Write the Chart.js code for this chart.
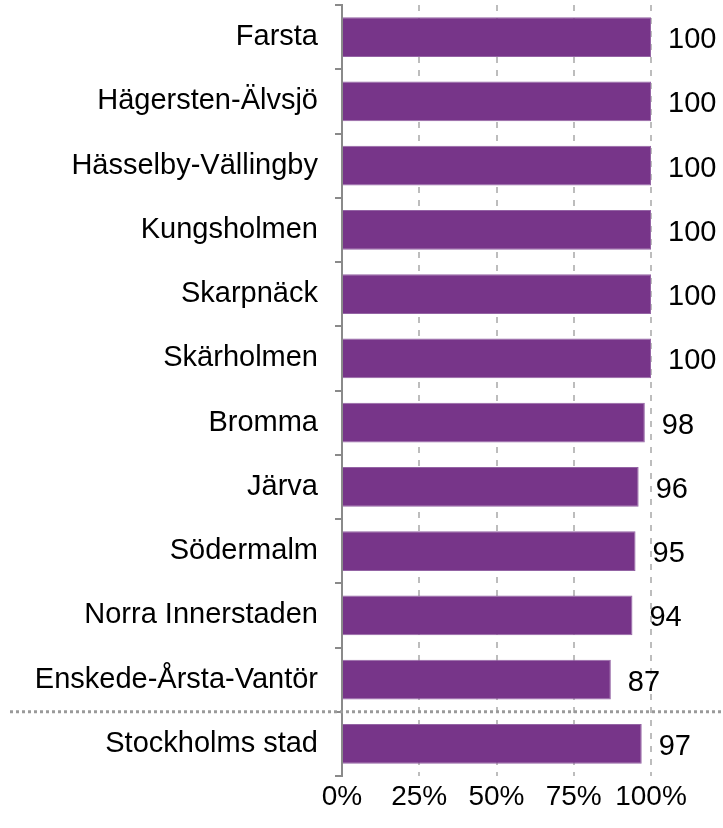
<!DOCTYPE html>
<html lang="sv">
<head>
    <meta charset="utf-8">
    <title>Stadsdelar</title>
    <script src="https://cdn.jsdelivr.net/npm/chart.js@4.4.1/dist/chart.umd.min.js"></script>
    <style>
        html, body { margin: 0; padding: 0; background: #fff; }
        #wrap { width: 723px; height: 828px; }
    </style>
</head>
<body>
<div id="wrap"><canvas id="chart" width="723" height="828"></canvas></div>
<script>
  var labels = ["Farsta", "Hägersten-Älvsjö", "Hässelby-Vällingby", "Kungsholmen", "Skarpnäck",
    "Skärholmen", "Bromma", "Järva", "Södermalm", "Norra Innerstaden", "Enskede-Årsta-Vantör",
    "Stockholms stad"];
  var values = [100, 100, 100, 100, 100, 100, 98, 96, 95, 94, 87, 97];
  var xTicks = [0, 25, 50, 75, 100];

  var FONT = "'Liberation Sans', Arial, sans-serif";

  // siffror till höger om staplarna
  var valueLabels = {
    id: 'valueLabels',
    afterDatasetsDraw: function (chart) {
      var ctx = chart.ctx;
      var meta = chart.getDatasetMeta(0);
      ctx.save();
      ctx.font = "29px " + FONT;
      ctx.fillStyle = "#000";
      ctx.textAlign = "left";
      ctx.textBaseline = "middle";
      meta.data.forEach(function (bar, i) {
        ctx.fillText(values[i], bar.x + 17, bar.y + 3);
      });
      ctx.restore();
    }
  };

  // prickad linje ovanför Stockholms stad
  var separator = {
    id: 'separator',
    afterDraw: function (chart) {
      var ctx = chart.ctx;
      var y = chart.scales.y.getPixelForValue(labels.length - 1.5);
      ctx.save();
      ctx.strokeStyle = "#9a9a9a";
      ctx.lineWidth = 3;
      ctx.setLineDash([3, 3]);
      ctx.beginPath();
      ctx.moveTo(10, y);
      ctx.lineTo(723, y);
      ctx.stroke();
      ctx.restore();
    }
  };

  new Chart(document.getElementById("chart"), {
    type: 'bar',
    data: {
      labels: labels,
      datasets: [{
        data: values,
        backgroundColor: "#773589",
        borderColor: "#9464a4",
        borderWidth: 1,
        barPercentage: 0.62,
        categoryPercentage: 1
      }]
    },
    options: {
      indexAxis: 'y',
      responsive: false,
      animation: false,
      layout: { padding: { top: 5, right: 72, left: 0, bottom: 0 } },
      plugins: { legend: { display: false }, tooltip: { enabled: false } },
      scales: {
        x: {
          min: 0,
          max: 100,
          afterBuildTicks: function (scale) {
            scale.ticks = xTicks.map(function (v) { return { value: v }; });
          },
          afterFit: function (scale) {
            scale.height = 52;
            scale.paddingLeft = 0;
            scale.paddingRight = 0;
          },
          grid: {
            drawTicks: false,
            color: function (c) { return c.tick && c.tick.value === 0 ? 'rgba(0,0,0,0)' : '#bdbdbd'; },
            lineWidth: 2
          },
          border: { display: false, dash: [6, 7] },
          ticks: {
            padding: 4,
            maxRotation: 0,
            minRotation: 0,
            autoSkip: false,
            color: "#000",
            font: { family: FONT, size: 28 },
            callback: function (v) { return v + "%"; }
          }
        },
        y: {
          afterFit: function (scale) {
            scale.width = 342;
            scale.paddingTop = 0;
            scale.paddingBottom = 0;
          },
          border: { display: true, color: "#8a8a8a", width: 2 },
          grid: {
            drawOnChartArea: false,
            drawTicks: true,
            tickLength: 7,
            color: "#8a8a8a",
            lineWidth: 2
          },
          ticks: {
            padding: 17,
            color: "#000",
            font: { family: FONT, size: 29 }
          }
        }
      }
    },
    plugins: [valueLabels, separator]
  });
</script>
</body>
</html>
